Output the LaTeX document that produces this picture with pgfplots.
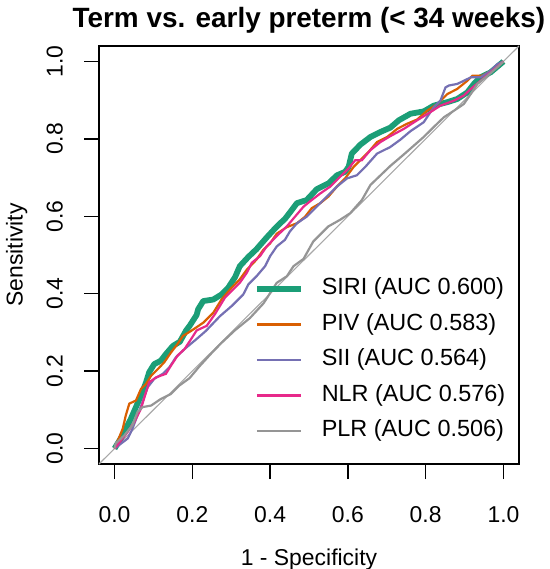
\documentclass[border=0pt]{standalone}
\usepackage{fontspec}
\setmainfont{Liberation Sans}
\usepackage{pgfplots}
\pgfplotsset{compat=1.18}
\definecolor{siri}{HTML}{1B9E77}
\definecolor{piv}{HTML}{D95F02}
\definecolor{sii}{HTML}{7570B3}
\definecolor{nlr}{HTML}{E7298A}
\definecolor{plr}{HTML}{959595}
\definecolor{diag}{HTML}{A8A8A8}
\begin{document}
\begin{tikzpicture}
\useasboundingbox (-99bp,-105bp) rectangle (451bp,464bp);
\begin{axis}[
  at={(0,0)}, anchor=south west,
  scale only axis, width=420bp, height=418bp,
  xmin=-0.04, xmax=1.04, ymin=-0.04, ymax=1.04,
  axis line style={line width=1.5bp, black},
  xtick={0,0.2,0.4,0.6,0.8,1}, ytick={0,0.2,0.4,0.6,0.8,1},
  xticklabels={0.0,0.2,0.4,0.6,0.8,1.0},
  yticklabels={0.0,0.2,0.4,0.6,0.8,1.0},
  tick pos=left, tick align=outside, major tick length=15bp,
  tick style={line width=1.3bp, black},
  /pgf/number format/assume math mode=true,
  every tick label/.append style={font=\fontsize{23}{23}\selectfont, inner sep=0pt},
  xticklabel style={anchor=base, yshift=-43bp},
  yticklabel style={xshift=-21.3bp, rotate=90, anchor=base},
  every axis x label/.style={at={(axis description cs:0.5,0)}, yshift=-101bp, anchor=base, inner sep=0pt, font=\fontsize{23}{23}\selectfont},
  every axis y label/.style={at={(axis description cs:0,0.5)}, xshift=-76.3bp, rotate=90, anchor=base, inner sep=0pt, font=\fontsize{23}{23}\selectfont},
  every axis title/.style={at={(axis description cs:0.5,1)}, yshift=18bp, anchor=base, inner sep=0pt, font=\bfseries\fontsize{28}{28}\selectfont},
  title={Term vs. early preterm (< 34 weeks)},
  xlabel={1 - Specificity},
  ylabel={Sensitivity},
  legend cell align=left,
  legend image code/.code={\draw[#1] (0bp,0bp) -- (44bp,0bp);},
  legend style={draw=none, fill=none, at={(0.369,0.445)}, anchor=north west,
    inner sep=0pt, outer sep=0pt, font=\fontsize{23.5}{23.5}\selectfont,
    nodes={inner sep=0pt, text height=17bp, text depth=5bp},
    row sep=13.5bp, column sep=18bp},
]
\addplot[diag, line width=1.1bp, forget plot] coordinates {(-0.04,-0.04) (1.04,1.04)};
\addplot[siri, line width=5.8bp, line join=round] coordinates {
(0,0) (0.016,0.026) (0.029,0.051) (0.042,0.077) (0.055,0.107) (0.068,0.137)
(0.081,0.171) (0.089,0.197) (0.102,0.218) (0.119,0.227) (0.132,0.244) (0.150,0.265)
(0.168,0.276) (0.184,0.305) (0.193,0.317) (0.211,0.345) (0.215,0.360) (0.228,0.381)
(0.254,0.385) (0.275,0.398) (0.292,0.415) (0.310,0.443) (0.322,0.471) (0.344,0.495)
(0.365,0.515) (0.391,0.545) (0.413,0.569) (0.426,0.582) (0.438,0.593) (0.451,0.610)
(0.469,0.634) (0.494,0.642) (0.520,0.670) (0.550,0.685) (0.572,0.706) (0.593,0.715)
(0.602,0.728) (0.610,0.762) (0.632,0.785) (0.658,0.805) (0.684,0.818) (0.709,0.829)
(0.731,0.848) (0.761,0.865) (0.795,0.871) (0.821,0.886) (0.856,0.895) (0.881,0.903)
(0.907,0.920) (0.924,0.942) (0.941,0.959) (0.967,0.972) (1,1)};
\addlegendentry{SIRI (AUC 0.600)}
\addplot[piv, line width=2.2bp] coordinates {
(0,0) (0.021,0.051) (0.029,0.086) (0.038,0.116) (0.055,0.124) (0.068,0.154)
(0.081,0.167) (0.094,0.188) (0.111,0.205) (0.128,0.223) (0.145,0.248) (0.162,0.270)
(0.176,0.291) (0.197,0.304) (0.228,0.325) (0.254,0.351) (0.275,0.385) (0.297,0.411)
(0.322,0.437) (0.340,0.462) (0.365,0.488) (0.383,0.514) (0.400,0.530) (0.417,0.555)
(0.443,0.572) (0.469,0.582) (0.490,0.599) (0.507,0.621) (0.529,0.634) (0.550,0.651)
(0.572,0.677) (0.593,0.698) (0.615,0.728) (0.632,0.745) (0.653,0.766) (0.675,0.792)
(0.701,0.805) (0.727,0.826) (0.752,0.839) (0.778,0.850) (0.804,0.873) (0.830,0.890)
(0.856,0.916) (0.881,0.929) (0.907,0.950) (0.920,0.963) (0.945,0.963) (0.976,0.980) (1,1)};
\addlegendentry{PIV (AUC 0.583)}
\addplot[sii, line width=2.2bp] coordinates {
(0,0) (0.034,0.026) (0.046,0.051) (0.059,0.086) (0.072,0.120) (0.085,0.158)
(0.102,0.180) (0.124,0.193) (0.141,0.210) (0.158,0.236) (0.180,0.257) (0.211,0.283)
(0.235,0.304) (0.271,0.342) (0.301,0.368) (0.331,0.398) (0.344,0.424) (0.365,0.445)
(0.387,0.471) (0.400,0.497) (0.417,0.522) (0.438,0.539) (0.451,0.561) (0.469,0.582)
(0.494,0.599) (0.520,0.625) (0.546,0.651) (0.572,0.677) (0.598,0.698) (0.623,0.706)
(0.645,0.728) (0.675,0.762) (0.709,0.779) (0.735,0.798) (0.761,0.820) (0.795,0.843)
(0.821,0.882) (0.838,0.899) (0.851,0.933) (0.860,0.938) (0.881,0.942) (0.898,0.950)
(0.916,0.959) (0.941,0.959) (0.967,0.976) (0.984,0.993) (1,1)};
\addlegendentry{SII (AUC 0.564)}
\addplot[nlr, line width=2.2bp] coordinates {
(0,0) (0.034,0.043) (0.051,0.069) (0.068,0.103) (0.081,0.146) (0.089,0.171)
(0.107,0.184) (0.132,0.193) (0.145,0.214) (0.162,0.240) (0.180,0.257) (0.197,0.283)
(0.211,0.305) (0.237,0.317) (0.258,0.347) (0.284,0.390) (0.301,0.407) (0.322,0.428)
(0.340,0.454) (0.353,0.480) (0.374,0.497) (0.391,0.522) (0.413,0.545) (0.443,0.574)
(0.464,0.599) (0.486,0.625) (0.507,0.642) (0.529,0.659) (0.555,0.677) (0.580,0.702)
(0.602,0.724) (0.619,0.745) (0.636,0.745) (0.658,0.771) (0.684,0.792) (0.709,0.807)
(0.744,0.826) (0.778,0.848) (0.812,0.869) (0.838,0.886) (0.873,0.899) (0.898,0.912)
(0.916,0.929) (0.941,0.950) (0.967,0.972) (1,1)};
\addlegendentry{NLR (AUC 0.576)}
\addplot[plr, line width=2.2bp] coordinates {
(0,0) (0.003,0.013) (0.025,0.034) (0.046,0.060) (0.059,0.094) (0.072,0.107)
(0.094,0.111) (0.119,0.128) (0.145,0.141) (0.167,0.163) (0.193,0.182) (0.218,0.212)
(0.248,0.245) (0.274,0.272) (0.309,0.305) (0.348,0.337) (0.383,0.375) (0.417,0.428)
(0.443,0.445) (0.460,0.471) (0.486,0.490) (0.511,0.535) (0.550,0.574) (0.580,0.591)
(0.606,0.608) (0.636,0.642) (0.658,0.681) (0.684,0.706) (0.709,0.730) (0.744,0.760)
(0.778,0.790) (0.795,0.805) (0.821,0.831) (0.847,0.856) (0.873,0.873) (0.898,0.890)
(0.916,0.916) (0.933,0.942) (0.959,0.963) (0.984,0.985) (1,1)};
\addlegendentry{PLR (AUC 0.506)}
\end{axis}
\end{tikzpicture}
\end{document}
